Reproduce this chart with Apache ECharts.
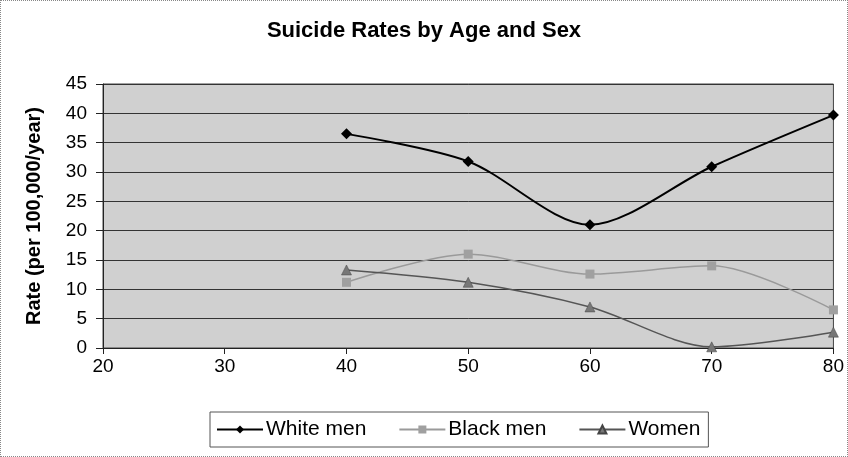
<!DOCTYPE html>
<html><head><meta charset="utf-8">
<script src="https://cdn.jsdelivr.net/npm/echarts@6/dist/echarts.min.js"></script>
<style>html,body{margin:0;padding:0;background:#fff}#c{width:846px;height:455px;border:1px dotted #888}</style>
</head><body><div id="c"></div>
<script>
const ages = [40, 50, 60, 70, 80];
const whiteMen = [36.5, 31.8, 21.0, 30.9, 39.7];
const blackMen = [11.2, 16.0, 12.6, 14.0, 6.5];
const women = [13.3, 11.2, 7.0, 0.2, 2.7];
const font = 'Liberation Sans, Arial, sans-serif';
const chart = echarts.init(document.getElementById('c'));
const pair = (arr) => ages.map((a, i) => [a, arr[i]]);
chart.setOption({
  animation: false,
  title: {text: 'Suicide Rates by Age and Sex', left: 'center', top: 14,
    textStyle: {fontFamily: font, fontSize: 22, fontWeight: 'bold', color: '#000'}},
  grid: {left: 102, right: 9, top: 83, bottom: 108, show: true, backgroundColor: '#d0d0d0', borderColor: '#444', borderWidth: 1},
  legend: {bottom: 9, left: 209, itemWidth: 46, itemHeight: 10, itemGap: 32,
    borderColor: '#555', borderWidth: 1, padding: [7, 8, 7, 6],
    textStyle: {fontFamily: font, fontSize: 21, color: '#000', padding: [0, 0, 0, -2]},
    data: ['White men', 'Black men', 'Women']},
  xAxis: {type: 'value', min: 20, max: 80, interval: 10,
    axisLine: {lineStyle: {color: '#222'}}, axisTick: {show: true, inside: false, length: 6, lineStyle: {color: '#222'}},
    splitLine: {show: false},
    axisLabel: {fontFamily: font, fontSize: 19, color: '#000', margin: 9}},
  yAxis: {type: 'value', min: 0, max: 45, interval: 5,
    name: 'Rate (per 100,000/year)', nameLocation: 'middle', nameGap: 59, nameRotate: 90,
    nameTextStyle: {fontFamily: font, fontSize: 20, fontWeight: 'bold', color: '#000'},
    axisLine: {show: true, lineStyle: {color: '#222'}}, axisTick: {show: true, length: 7, lineStyle: {color: '#222'}},
    splitLine: {lineStyle: {color: '#333', width: 1}},
    axisLabel: {fontFamily: font, fontSize: 19, color: '#000', margin: 16}},
  series: [
    {name: 'White men', type: 'line', smooth: 0.3, data: pair(whiteMen), symbol: 'diamond', symbolSize: 11,
      lineStyle: {color: '#000', width: 2}, itemStyle: {color: '#000'}},
    {name: 'Black men', type: 'line', smooth: 0.3, data: pair(blackMen), symbol: 'rect', symbolSize: 9,
      lineStyle: {color: '#9a9a9a', width: 1.5}, itemStyle: {color: '#a0a0a0'}},
    {name: 'Women', type: 'line', smooth: 0.3, data: pair(women), symbol: 'triangle', symbolSize: 10,
      lineStyle: {color: '#555', width: 1.5}, itemStyle: {color: '#777', borderColor: '#444', borderWidth: 0.5}}
  ]
});
</script></body></html>
